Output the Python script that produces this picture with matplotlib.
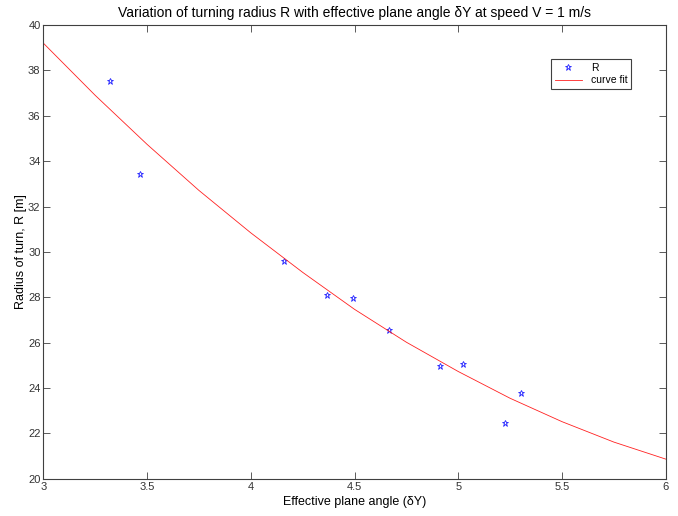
import numpy as np
import matplotlib
matplotlib.use("Agg")
import matplotlib.pyplot as plt

# measured turning radius against effective plane angle
angle = [3.32, 3.464, 4.158, 4.367, 4.491, 4.667, 4.911, 5.024, 5.226, 5.302]
radius = [37.52, 33.42, 29.62, 28.10, 27.97, 26.55, 24.97, 25.06, 22.45, 23.77]

# fitted curve, sampled along the angle range
fit_angle = [3.0, 3.25, 3.5, 3.75, 4.0, 4.25, 4.5, 4.75, 5.0, 5.25, 5.5, 5.75, 6.0]
fit_radius = [39.2, 36.9, 34.74, 32.71, 30.84, 29.1, 27.47, 26.02, 24.73, 23.55, 22.52, 21.62, 20.87]

plt.rcParams['font.family'] = ['Liberation Sans', 'DejaVu Sans']

fig = plt.figure(figsize=(6.78, 5.16), dpi=100)
ax = fig.add_axes([0.0639, 0.072, 0.918, 0.8796])

ax.plot(angle, radius, linestyle='none', marker='*', markersize=5,
        markerfacecolor='none', markeredgecolor='#2020ff', markeredgewidth=0.6, label='R')
ax.plot(fit_angle, fit_radius, color='#ff2020', linewidth=0.6, label='curve fit')

ax.set_xlim(3, 6)
ax.set_ylim(20, 40)
ax.set_xticks(np.arange(3, 6.01, 0.5))
ax.set_xticklabels(['3', '3.5', '4', '4.5', '5', '5.5', '6'])
ax.set_yticks(np.arange(20, 40.1, 2))

for s in ax.spines.values():
    s.set_color('#404040')
    s.set_linewidth(0.8)
ax.tick_params(direction='in', length=5, width=0.6, color='#404040',
               labelsize=8, labelcolor='#333333', top=True, right=True, pad=2)

ax.set_title('Variation of turning radius R with effective plane angle δY at speed V = 1 m/s',
             fontsize=10, pad=6)
ax.set_xlabel('Effective plane angle (δY)', fontsize=9, labelpad=3)
ax.set_ylabel('Radius of turn, R [m]', fontsize=9, labelpad=1)

leg = ax.legend(loc='upper right', bbox_to_anchor=(0.945, 0.925), borderaxespad=0,
                fontsize=7.5, fancybox=False, framealpha=1, edgecolor='#404040',
                handlelength=2.6, borderpad=0.35, labelspacing=0.25, handletextpad=0.9)
leg.get_frame().set_linewidth(0.8)

fig.savefig('out.png', dpi=100, facecolor='white')
